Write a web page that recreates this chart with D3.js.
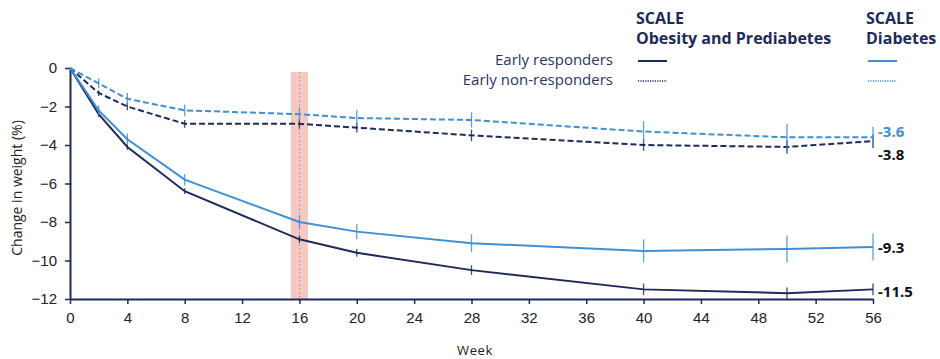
<!DOCTYPE html>
<html>
<head>
<meta charset="utf-8">
<script src="https://cdn.jsdelivr.net/npm/d3@7"></script>
<style>
  body { margin: 0; background: #fff; }
  svg { font-family: "Open Sans", sans-serif; }
</style>
</head>
<body>
<svg id="chart" width="940" height="359"></svg>
<script>
// Weeks where measurements were taken
const weeks = [0, 2, 4, 8, 16, 20, 28, 40, 50, 56];

// Mean change in weight (%) per series
const obesityResponders = [0, -2.4, -4.1, -6.4, -8.9, -9.6, -10.5, -11.5, -11.7, -11.5];
const obesityNonResponders = [0, -1.3, -2.0, -2.9, -2.9, -3.1, -3.5, -4.0, -4.1, -3.8];
const diabetesResponders = [0, -2.2, -3.7, -5.8, -8.0, -8.5, -9.1, -9.5, -9.4, -9.3];
const diabetesNonResponders = [0, -0.8, -1.6, -2.2, -2.4, -2.6, -2.7, -3.3, -3.6, -3.6];

// Error bar half-widths (%)
const obesityRespondersErr = [0, 0.15, 0.15, 0.15, 0.2, 0.2, 0.25, 0.3, 0.3, 0.3];
const obesityNonRespondersErr = [0, 0.15, 0.2, 0.2, 0.25, 0.25, 0.3, 0.3, 0.35, 0.35];
const diabetesRespondersErr = [0, 0.25, 0.3, 0.3, 0.35, 0.4, 0.47, 0.6, 0.7, 0.7];
const diabetesNonRespondersErr = [0, 0.25, 0.3, 0.3, 0.35, 0.4, 0.4, 0.55, 0.7, 0.55];

const xTicks = d3.range(0, 57, 4);
const yTicks = [0, -2, -4, -6, -8, -10, -12];
const endLabels = ["-11.5", "-3.8", "-9.3", "-3.6"];

const navy = "#1e2a5a";
const blue = "#3f8fd4";

const series = [
  { values: obesityResponders, err: obesityRespondersErr, color: navy, dash: null, label: endLabels[0], labelColor: "#111", dy: 2 },
  { values: obesityNonResponders, err: obesityNonRespondersErr, color: navy, dash: "6,3", label: endLabels[1], labelColor: "#111", dy: 14 },
  { values: diabetesResponders, err: diabetesRespondersErr, color: blue, dash: null, label: endLabels[2], labelColor: "#111", dy: 1 },
  { values: diabetesNonResponders, err: diabetesNonRespondersErr, color: blue, dash: "6,3", label: endLabels[3], labelColor: blue, dy: -6 }
];

const svg = d3.select("#chart");

const x = d3.scaleLinear().domain([0, 56]).range([70, 873]);
const y = d3.scaleLinear().domain([-12, 0]).range([299, 68]);

// Highlight band around week 16
svg.append("rect")
  .attr("x", x(15.4))
  .attr("y", 72)
  .attr("width", x(16.6) - x(15.4))
  .attr("height", y(-12) - 72)
  .attr("fill", "#f5c9c3");

svg.append("line")
  .attr("x1", x(16)).attr("x2", x(16))
  .attr("y1", 72).attr("y2", y(-12))
  .attr("stroke", "#d98080")
  .attr("stroke-width", 0.8)
  .attr("stroke-dasharray", "2,2");

// Axes
const xAxis = svg.append("g")
  .attr("transform", "translate(0," + y(-12) + ")")
  .call(d3.axisBottom(x).tickValues(xTicks).tickSize(5).tickPadding(8).tickSizeOuter(0));

const yAxis = svg.append("g")
  .attr("transform", "translate(" + x(0) + ",0)")
  .call(d3.axisLeft(y).tickValues(yTicks).tickSize(5).tickPadding(8).tickSizeOuter(0));

[xAxis, yAxis].forEach(function (a) {
  a.select(".domain").attr("stroke", navy).attr("stroke-width", 2);
  a.selectAll(".tick line").attr("stroke", navy).attr("stroke-width", 1.5);
  a.selectAll(".tick text").attr("fill", "#222").style("font-size", "15px");
});

// Axis titles
svg.append("text")
  .attr("x", 475).attr("y", 355)
  .attr("text-anchor", "middle")
  .attr("fill", "#222")
  .style("font-size", "13px")
  .style("letter-spacing", "0.6px")
  .text("Week");

svg.append("text")
  .attr("transform", "translate(22,188) rotate(-90)")
  .attr("text-anchor", "middle")
  .attr("fill", "#222")
  .style("font-size", "14px")
  .text("Change in weight (%)");

// Lines, error bars and end labels
const line = d3.line()
  .x(function (d, i) { return x(weeks[i]); })
  .y(function (d) { return y(d); });

series.forEach(function (s) {
  svg.append("path")
    .datum(s.values)
    .attr("fill", "none")
    .attr("stroke", s.color)
    .attr("stroke-width", 2)
    .attr("stroke-dasharray", s.dash)
    .attr("d", line);

  svg.append("g")
    .selectAll("line")
    .data(s.values.map(function (v, i) { return { w: weeks[i], v: v, e: s.err[i] }; }).filter(function (d) { return d.e > 0; }))
    .enter()
    .append("line")
    .attr("x1", function (d) { return x(d.w); })
    .attr("x2", function (d) { return x(d.w); })
    .attr("y1", function (d) { return y(d.v - d.e); })
    .attr("y2", function (d) { return y(d.v + d.e); })
    .attr("stroke", s.color)
    .attr("stroke-opacity", 0.85)
    .attr("stroke-width", 1.3);

  svg.append("text")
    .attr("x", x(56) + 5)
    .attr("y", y(s.values[s.values.length - 1]) + s.dy)
    .attr("dy", "0.35em")
    .attr("fill", s.labelColor)
    .style("font-size", "15px")
    .style("font-weight", "bold")
    .text(s.label);
});

// Legend
const legend = svg.append("g");
const headers = [
  { x: 636, lines: ["SCALE", "Obesity and Prediabetes"], color: navy },
  { x: 866, lines: ["SCALE", "Diabetes"], color: blue }
];
const rowLabels = ["Early responders", "Early non-responders"];
const rowY = [60, 80];

headers.forEach(function (h) {
  h.lines.forEach(function (t, i) {
    legend.append("text")
      .attr("x", h.x).attr("y", 24 + i * 20)
      .attr("fill", navy)
      .style("font-size", "16px")
      .style("font-weight", "bold")
      .text(t);
  });
  rowY.forEach(function (ry, i) {
    legend.append("line")
      .attr("x1", h.x + 2).attr("x2", h.x + 31)
      .attr("y1", ry + 1).attr("y2", ry + 1)
      .attr("stroke", h.color)
      .attr("stroke-width", i === 0 ? 2 : 1.5)
      .attr("stroke-dasharray", i === 0 ? null : "1.2,1.2");
  });
});

rowLabels.forEach(function (t, i) {
  legend.append("text")
    .attr("x", 613).attr("y", rowY[i])
    .attr("dy", "0.35em")
    .attr("text-anchor", "end")
    .attr("fill", "#2a3560")
    .style("font-size", "15px")
    .text(t);
});
</script>
</body>
</html>
